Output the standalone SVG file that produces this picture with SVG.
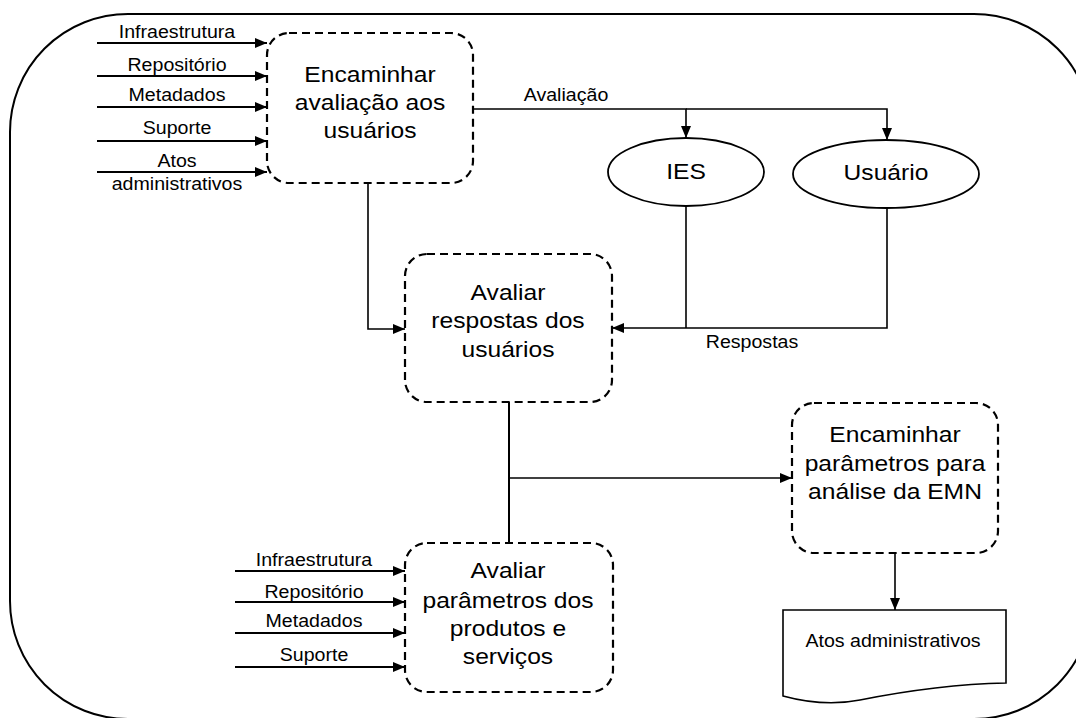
<svg xmlns="http://www.w3.org/2000/svg" width="1076" height="718" viewBox="0 0 1076 718">
<style>
.frame{fill:none;stroke:#000;stroke-width:2}
.proc{fill:#fff;stroke:#000;stroke-width:2.2;stroke-dasharray:8 5}
.ell{fill:#fff;stroke:#000;stroke-width:1.8}
.doc{fill:#fff;stroke:#000;stroke-width:1.6}
.c{fill:none;stroke:#000;stroke-width:2}
.cs{fill:none;stroke:#000;stroke-width:1.6}
text{font-family:"Liberation Sans",Arial,sans-serif;fill:#000;text-anchor:middle}
.big{font-size:22px}
.sm{font-size:17.5px}
</style>
<defs>
<marker id="ah" viewBox="0 0 12 10" refX="12" refY="5" markerWidth="12" markerHeight="10" markerUnits="userSpaceOnUse" orient="auto">
<path d="M0,0 L12,5 L0,10 z" fill="#000"/>
</marker>
</defs>
<rect class="frame" x="10" y="14" width="1082" height="705" rx="118" ry="118"/>
<g id="connectors">
<g marker-end="url(#ah)">
<path class="c" d="M97,43 H267"/>
<path class="c" d="M97,76 H267"/>
<path class="c" d="M97,107 H267"/>
<path class="c" d="M97,141 H267"/>
<path class="c" d="M97,172 H267"/>
<path class="cs" d="M473,109 H686 V138"/>
<path class="cs" d="M686,109 H887 V140"/>
<path class="cs" d="M887,207 V328 H612"/>
<path class="cs" d="M368,183 V329 H405"/>
<path class="cs" d="M509,478 H792"/>
<path class="cs" d="M895,553 V610"/>
<path class="c" d="M235,571 H405"/>
<path class="c" d="M235,602 H405"/>
<path class="c" d="M235,633 H405"/>
<path class="c" d="M235,667 H405"/>
</g>
<path class="cs" d="M686,206 V328"/>
<path class="c" d="M509,402 V543"/>
</g>
<g id="labels">
<text class="sm" transform="translate(177 0) scale(1.12 1)" y="38">Infraestrutura</text>
<text class="sm" transform="translate(177 0) scale(1.12 1)" y="71">Repositório</text>
<text class="sm" transform="translate(177 0) scale(1.12 1)" y="101">Metadados</text>
<text class="sm" transform="translate(177 0) scale(1.12 1)" y="134">Suporte</text>
<text class="sm" transform="translate(177 0) scale(1.12 1)" y="167">Atos</text>
<text class="sm" transform="translate(177 0) scale(1.12 1)" y="190">administrativos</text>
<text class="sm" transform="translate(566 0) scale(1.12 1)" y="101">Avaliação</text>
<text class="sm" transform="translate(752 0) scale(1.12 1)" y="348">Respostas</text>
<text class="sm" transform="translate(314 0) scale(1.12 1)" y="566">Infraestrutura</text>
<text class="sm" transform="translate(314 0) scale(1.12 1)" y="598">Repositório</text>
<text class="sm" transform="translate(314 0) scale(1.12 1)" y="627">Metadados</text>
<text class="sm" transform="translate(314 0) scale(1.12 1)" y="661">Suporte</text>
</g>
<g id="n1">
<rect class="proc" x="267" y="33" width="206" height="150" rx="22"/>
<g transform="translate(370 0) scale(1.12 1)">
<text class="big" y="82">Encaminhar</text>
<text class="big" y="110">avaliação aos</text>
<text class="big" y="138">usuários</text>
</g>
</g>
<g id="ies">
<ellipse class="ell" cx="686" cy="172" rx="78" ry="34"/>
<text class="big" transform="translate(686 0) scale(1.12 1)" y="179">IES</text>
</g>
<g id="usuario">
<ellipse class="ell" cx="886" cy="174" rx="93" ry="34"/>
<text class="big" transform="translate(886 0) scale(1.12 1)" y="180">Usuário</text>
</g>
<g id="n2">
<rect class="proc" x="405" y="254" width="207" height="148" rx="22"/>
<g transform="translate(508 0) scale(1.12 1)">
<text class="big" y="300">Avaliar</text>
<text class="big" y="328">respostas dos</text>
<text class="big" y="357">usuários</text>
</g>
</g>
<g id="n3">
<rect class="proc" x="792" y="403" width="206" height="150" rx="22"/>
<g transform="translate(895 0) scale(1.12 1)">
<text class="big" y="442">Encaminhar</text>
<text class="big" y="471">parâmetros para</text>
<text class="big" y="499">análise da EMN</text>
</g>
</g>
<g id="n4">
<rect class="proc" x="405" y="543" width="208" height="149" rx="22"/>
<g transform="translate(508 0) scale(1.12 1)">
<text class="big" y="578">Avaliar</text>
<text class="big" y="608">parâmetros dos</text>
<text class="big" y="636">produtos e</text>
<text class="big" y="664">serviços</text>
</g>
</g>
<g id="doc">
<path class="doc" d="M783,610 H1006 V683 C960,684 910,690 860,700 C830,706 805,702 783,696 Z"/>
<text class="sm" transform="translate(893 0) scale(1.12 1)" y="647">Atos administrativos</text>
</g>
</svg>
